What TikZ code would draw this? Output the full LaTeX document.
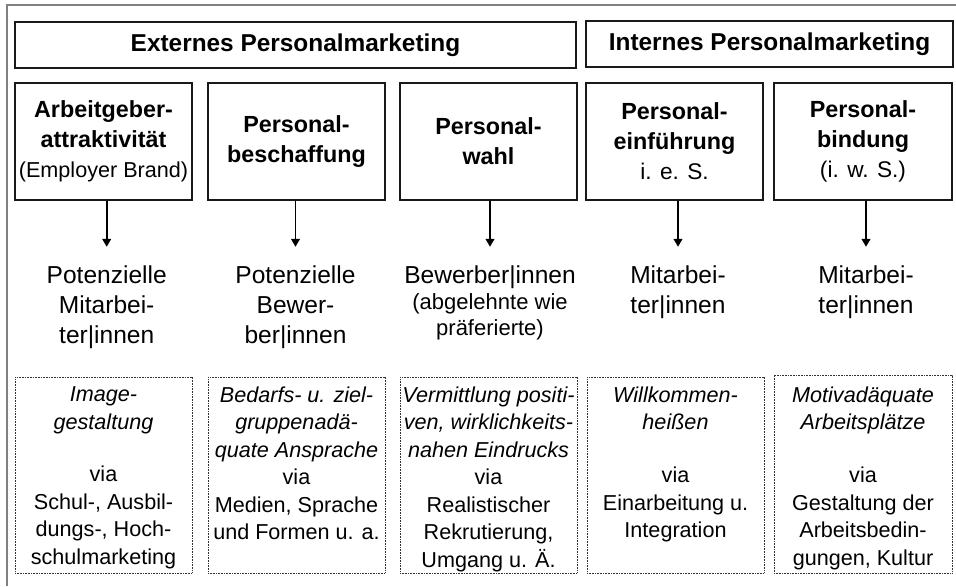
\documentclass[tikz,border=0pt]{standalone}
\usepackage{fontspec}
\setmainfont{Liberation Sans}
\usetikzlibrary{arrows.meta}
\newcommand\fsz[2]{\fontsize{#1pt}{#2pt}\selectfont}
\begin{document}
\begin{tikzpicture}[x=0.75pt,y=-0.75pt,
  wh/.style 2 args={minimum width=#1*0.75pt, minimum height=#2*0.75pt},
  frameline/.style={draw=black!50, line width=1.4pt},
  titlebox/.style={draw=black!90, line width=1pt, inner sep=0pt, font=\fsz{18.3}{22}\bfseries},
  hdrbox/.style={draw=black!90, line width=1pt, inner sep=0pt, align=center, font=\fsz{17.5}{22.5}\bfseries},
  midtext/.style={anchor=north, inner sep=0pt, align=center, font=\fsz{18.4}{22.5}},
  dotbox/.style={draw=black!80, line width=0.7pt, dash pattern=on 0.6pt off 0.6pt, inner sep=0pt},
  bottext/.style={anchor=north, inner sep=0pt, align=center, font=\fsz{16.2}{20.6}},
  arr/.style={draw=black, line width=1.4pt, -{Triangle[length=6pt,width=6.5pt]}, shorten >=14pt}
]
\useasboundingbox (0,0) rectangle (956,586);

% frame lines along the top and left edge
\coordinate (ftl) at (7,5);
\coordinate (ftr) at (956,5);
\coordinate (fbl) at (7,586);
\draw[frameline] (ftr) -- (ftl) -- (fbl);

% section headings
\node[titlebox, wh={561}{46}] (ext) at (295.5,45) {Externes Personalmarketing};
\node[titlebox, wh={367}{46}] (int) at (769.5,44) {Internes Personalmarketing};

% function boxes
\node[hdrbox, wh={177}{117}] (h1) at (103.5,141.5)
  {Arbeitgeber-\\attraktivität\\{\mdseries\fsz{16.2}{20}(Employer Brand)}};
\node[hdrbox, wh={177}{117}] (h2) at (296.5,141.5) {Personal-\\beschaffung};
\node[hdrbox, wh={177}{117}] (h3) at (488.5,141.5) {Personal-\\wahl};
\node[hdrbox, wh={177}{117}] (h4) at (674.5,141.5)
  {Personal-\\einführung\\{\mdseries\fsz{17}{20}i. e. S.}};
\node[hdrbox, wh={178}{117}] (h5) at (863,141.5)
  {Personal-\\bindung\\{\mdseries\fsz{17}{20}(i. w. S.)}};

% target groups
\node[midtext] (m1) at (106.7,265.5) {Potenzielle\\Mitarbei-\\ter|innen};
\node[midtext] (m2) at (295.5,265.5) {Potenzielle\\Bewer-\\ber|innen};
\node[midtext] (m3) at (490,265.5)
  {Bewerber|innen\\[-3pt]{\fsz{16.5}{20}(abgelehnte wie}\\[-3pt]{\fsz{16.5}{20}präferierte)}};
\node[midtext] (m4) at (678,265.5) {Mitarbei-\\ter|innen};
\node[midtext] (m5) at (866,265.5) {Mitarbei-\\ter|innen};

\foreach \i in {1,...,5}
  \draw[arr] (m\i.north |- h\i.south) -- (m\i.north);

% goals and instruments
\node[dotbox, wh={177}{196}] (b1) at (103.5,475) {};
\node[dotbox, wh={177}{196}] (b2) at (296.5,475) {};
\node[dotbox, wh={177}{196}] (b3) at (488.5,475) {};
\node[dotbox, wh={177}{196}] (b4) at (675.5,475) {};
\node[dotbox, wh={178}{198}] (b5) at (863,474) {};

\node[bottext] (t1) at (103.5,386.5)
  {\textit{Image-}\\\textit{gestaltung}\\[19pt]via\\Schul-, Ausbil-\\dungs-, Hoch-\\schulmarketing};
\node[bottext] (t2) at (296.5,386.5)
  {\textit{Bedarfs- u. ziel-}\\\textit{gruppenadä-}\\\textit{quate Ansprache}\\via\\Medien, Sprache\\und Formen u. a.};
\node[bottext] (t3) at (488.5,386.5)
  {\textit{Vermittlung positi-}\\\textit{ven, wirklichkeits-}\\\textit{nahen Eindrucks}\\via\\Realistischer\\Rekrutierung,\\Umgang u. Ä.};
\node[bottext] (t4) at (675.5,386.5)
  {\textit{Willkommen-}\\\textit{heißen}\\[19pt]via\\Einarbeitung u.\\Integration};
\node[bottext] (t5) at (863,386.5)
  {\textit{Motivadäquate}\\\textit{Arbeitsplätze}\\[19pt]via\\Gestaltung der\\Arbeitsbedin-\\gungen, Kultur};
\end{tikzpicture}
\end{document}
